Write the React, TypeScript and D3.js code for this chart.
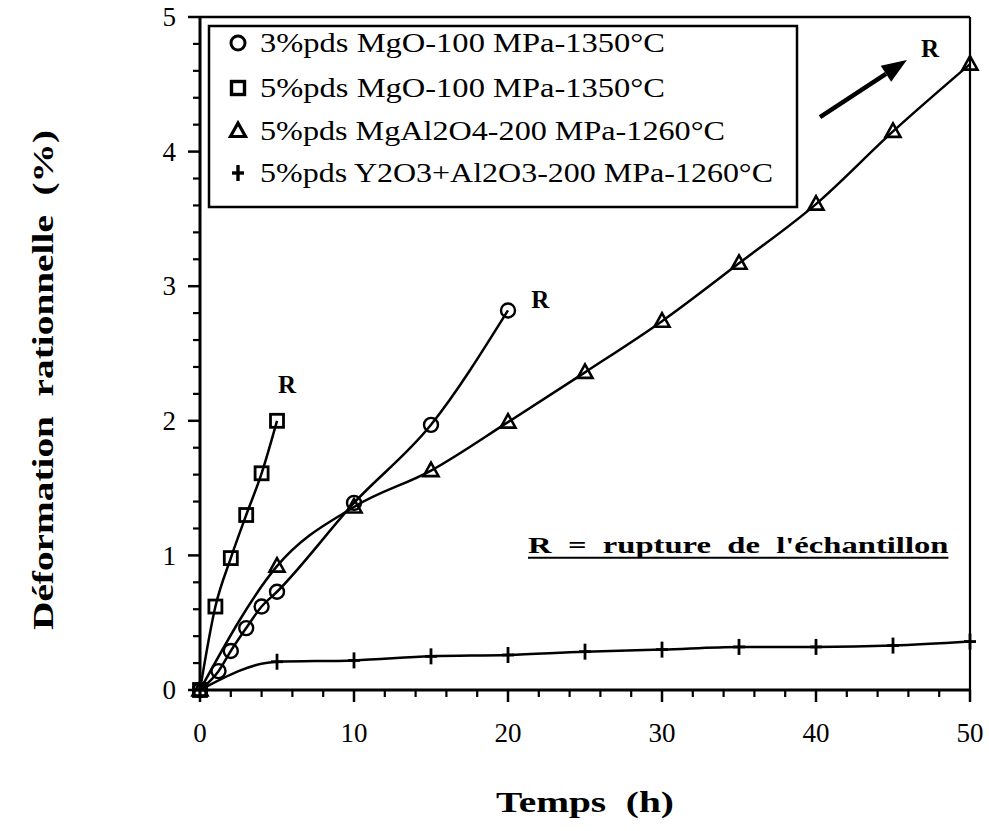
import React from 'react';
import * as d3 from 'd3';

const W = 989;
const H = 831;

// ---- data ----
const timeCircle = [0, 1.2, 2, 3, 4, 5, 10, 15, 20];
const strainCircle = [0, 0.14, 0.29, 0.46, 0.62, 0.73, 1.39, 1.97, 2.82];

const timeSquare = [0, 1, 2, 3, 4, 5];
const strainSquare = [0, 0.62, 0.98, 1.3, 1.61, 2.0];

const timeTriangle = [0, 5, 10, 15, 20, 25, 30, 35, 40, 45, 50];
const strainTriangle = [0, 0.92, 1.36, 1.63, 1.99, 2.36, 2.74, 3.17, 3.61, 4.15, 4.65];

const timePlus = [0, 5, 10, 15, 20, 25, 30, 35, 40, 45, 50];
const strainPlus = [0, 0.21, 0.22, 0.25, 0.26, 0.285, 0.3, 0.32, 0.32, 0.33, 0.36];

const legendLabels = [
  '3%pds MgO-100 MPa-1350°C',
  '5%pds MgO-100 MPa-1350°C',
  '5%pds MgAl2O4-200 MPa-1260°C',
  '5%pds Y2O3+Al2O3-200 MPa-1260°C',
];
const legendWidths = [405, 405, 465, 513];
const xTickValues = [0, 10, 20, 30, 40, 50];
const yTickValues = [0, 1, 2, 3, 4, 5];
const xTitle = 'Temps  (h)';
const yTitle = 'Déformation  rationnelle  (%)';
const noteText = "R  =  rupture  de  l'échantillon";
const ruptureLabels = [
  { t: 5.65, v: 2.27 },
  { t: 22.1, v: 2.9 },
  { t: 47.4, v: 4.77 },
];
const arrowFrom = { t: 40.26, v: 4.257 };
const arrowTo = { t: 45.9, v: 4.68 };
const noteAt = { t: 21.3, t2: 48.6, v: 1.02 };

type Shape = 'circle' | 'square' | 'triangle' | 'plus';
const shapes: Shape[] = ['circle', 'square', 'triangle', 'plus'];

const serif = '"Liberation Serif", "Times New Roman", Times, serif';

const x = d3.scaleLinear().domain([0, 50]).range([200, 970]);
const y = d3.scaleLinear().domain([0, 5]).range([690, 17]);

function Marker({ shape, cx, cy, sw = 2.4 }: { shape: Shape; cx: number; cy: number; sw?: number }) {
  if (shape === 'circle')
    return <circle cx={cx} cy={cy} r={7} fill="none" stroke="#000" strokeWidth={sw} />;
  if (shape === 'square')
    return <rect x={cx - 6.5} y={cy - 6.5} width={13} height={13} fill="none" stroke="#000" strokeWidth={sw + 0.4} />;
  if (shape === 'triangle')
    return (
      <polygon
        points={`${cx},${cy - 8} ${cx - 7.5},${cy + 5.5} ${cx + 7.5},${cy + 5.5}`}
        fill="none"
        stroke="#000"
        strokeWidth={sw + 0.2}
        strokeLinejoin="miter"
      />
    );
  return (
    <g stroke="#000" strokeWidth={sw + 0.4}>
      <line x1={cx} y1={cy - 8} x2={cx} y2={cy + 8} />
      <line x1={cx - 6} y1={cy} x2={cx + 6} y2={cy} />
    </g>
  );
}

export default function App() {
  const series = [
    { shape: 'circle' as Shape, t: timeCircle, v: strainCircle },
    { shape: 'square' as Shape, t: timeSquare, v: strainSquare },
    { shape: 'triangle' as Shape, t: timeTriangle, v: strainTriangle },
    { shape: 'plus' as Shape, t: timePlus, v: strainPlus },
  ];
  const line = d3
    .line<[number, number]>()
    .x((d) => x(d[0]))
    .y((d) => y(d[1]))
    .curve(d3.curveMonotoneX);

  const yMinor = d3.range(0, 5.0001, 0.2).filter((v) => Math.abs(v - Math.round(v)) > 1e-6);
  const xMinor = d3.range(0, 50.0001, 2).filter((v) => Math.abs(v % 10) > 1e-6);

  const ax0 = x(arrowFrom.t), ay0 = y(arrowFrom.v);
  const ax1 = x(arrowTo.t), ay1 = y(arrowTo.v);
  const ang = Math.atan2(ay1 - ay0, ax1 - ax0);
  const hl = 25, hw = 9.5;
  const bx = ax1 - hl * Math.cos(ang), by = ay1 - hl * Math.sin(ang);
  const head = `${ax1},${ay1} ${bx + hw * Math.sin(ang)},${by - hw * Math.cos(ang)} ${bx - hw * Math.sin(ang)},${by + hw * Math.cos(ang)}`;

  const legendRows = [43, 88, 131, 173];

  return (
    <svg
      width={W}
      height={H}
      viewBox={`0 0 ${W} ${H}`}
      style={{ position: 'absolute', left: 0, top: 0, background: '#fff' }}
    >
      <rect x={0} y={0} width={W} height={H} fill="#fff" />

      {/* frame: top and right */}
      <line x1={x(0)} y1={y(5)} x2={x(50)} y2={y(5)} stroke="#000" strokeWidth={2.5} />
      <line x1={x(50)} y1={y(5)} x2={x(50)} y2={y(0)} stroke="#000" strokeWidth={2.2} />

      {/* y axis */}
      <line x1={x(0)} y1={y(5) - 1} x2={x(0)} y2={y(0) + 1.5} stroke="#000" strokeWidth={3} />
      {yMinor.map((v) => (
        <line key={'ym' + v} x1={x(0) - 7} x2={x(0)} y1={y(v)} y2={y(v)} stroke="#000" strokeWidth={2.2} />
      ))}
      {yTickValues.map((v) => (
        <g key={'yt' + v}>
          <line x1={x(0) - 12} x2={x(0)} y1={y(v)} y2={y(v)} stroke="#000" strokeWidth={2.5} />
          <text
            x={x(0) - 24}
            y={y(v)}
            dy="0.34em"
            textAnchor="end"
            fontFamily={serif}
            fontSize={27}
          >
            {v}
          </text>
        </g>
      ))}

      {/* x axis */}
      <line x1={x(0) - 1.5} y1={y(0)} x2={x(50) + 1} y2={y(0)} stroke="#000" strokeWidth={3} />
      {xMinor.map((t) => (
        <line key={'xm' + t} x1={x(t)} x2={x(t)} y1={y(0)} y2={y(0) + 7} stroke="#000" strokeWidth={2.2} />
      ))}
      {xTickValues.map((t) => (
        <g key={'xt' + t}>
          <line x1={x(t)} x2={x(t)} y1={y(0)} y2={y(0) + 12} stroke="#000" strokeWidth={2.5} />
          <text x={x(t)} y={y(0) + 52} textAnchor="middle" fontFamily={serif} fontSize={27}>
            {t}
          </text>
        </g>
      ))}

      {/* axis titles */}
      <text
        x={585}
        y={812}
        textAnchor="middle"
        fontFamily={serif}
        fontWeight="bold"
        fontSize={29}
        textLength={178}
        lengthAdjust="spacingAndGlyphs"
        style={{ whiteSpace: 'pre' }}
      >
        {xTitle}
      </text>
      <text
        transform={`translate(53, 380) rotate(-90)`}
        textAnchor="middle"
        fontFamily={serif}
        fontWeight="bold"
        fontSize={29}
        textLength={500}
        lengthAdjust="spacingAndGlyphs"
        style={{ whiteSpace: 'pre' }}
      >
        {yTitle}
      </text>

      {/* series lines */}
      {series.map((s) => (
        <path
          key={'l' + s.shape}
          d={line(s.t.map((t, i) => [t, s.v[i]] as [number, number])) || ''}
          fill="none"
          stroke="#000"
          strokeWidth={2.5}
          strokeLinejoin="round"
        />
      ))}
      {/* markers */}
      {series.map((s) =>
        s.t.map((t, i) => <Marker key={s.shape + i} shape={s.shape} cx={x(t)} cy={y(s.v[i])} />)
      )}

      {/* rupture labels */}
      {ruptureLabels.map((r, i) => (
        <text
          key={'r' + i}
          x={x(r.t)}
          y={y(r.v)}
          dy="0.35em"
          textAnchor="middle"
          fontFamily={serif}
          fontWeight="bold"
          fontSize={25}
        >
          R
        </text>
      ))}

      {/* arrow */}
      <line x1={ax0} y1={ay0} x2={bx} y2={by} stroke="#000" strokeWidth={4.5} />
      <polygon points={head} fill="#000" />

      {/* note */}
      <text
        x={x(noteAt.t)}
        y={y(noteAt.v)}
        fontFamily={serif}
        fontWeight="bold"
        fontSize={24}
        textLength={x(noteAt.t2) - x(noteAt.t)}
        lengthAdjust="spacingAndGlyphs"
        style={{ whiteSpace: 'pre' }}
      >
        {noteText}
      </text>
      <line
        x1={x(noteAt.t)}
        x2={x(noteAt.t2)}
        y1={y(noteAt.v) + 5}
        y2={y(noteAt.v) + 5}
        stroke="#000"
        strokeWidth={2}
      />

      {/* legend */}
      <rect x={209} y={26} width={588} height={181} fill="#fff" stroke="#000" strokeWidth={2.5} />
      {legendLabels.map((lab, i) => (
        <g key={'lg' + i}>
          <Marker shape={shapes[i]} cx={238} cy={legendRows[i]} sw={3} />
          <text
            x={260}
            y={legendRows[i] + 9}
            fontFamily={serif}
            fontSize={27}
            textLength={legendWidths[i]}
            lengthAdjust="spacingAndGlyphs"
          >
            {lab}
          </text>
        </g>
      ))}
    </svg>
  );
}
